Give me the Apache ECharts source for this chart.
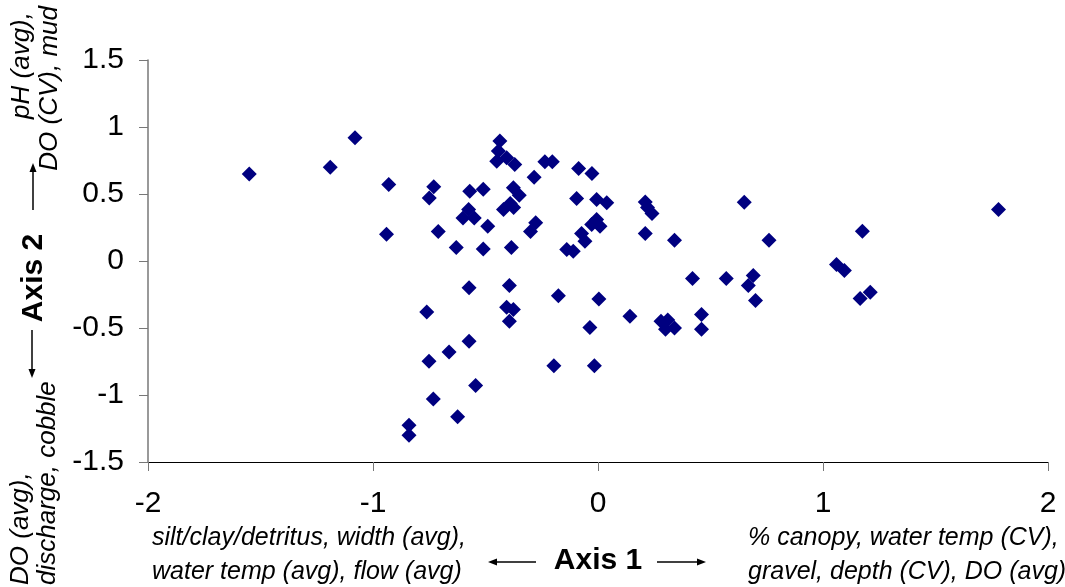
<!DOCTYPE html>
<html>
<head>
<meta charset="utf-8">
<script src="https://cdn.jsdelivr.net/npm/echarts@6/dist/echarts.min.js"></script>
<style>
html,body{margin:0;padding:0;background:#fff;}
#chart{width:1065px;height:587px;}
</style>
</head>
<body>
<div id="chart"></div>
<script>
// Ordination scores (Axis 1, Axis 2)
const axis1 = [-1.55,-1.19,-1.08,-0.93,-0.94,-0.73,-0.75,-0.71,-0.63,-0.57,-0.51,-0.575,-0.60,-0.55,-0.49,-0.51,-0.385,
  -0.436,-0.443,-0.45,-0.406,-0.37,-0.376,-0.35,-0.39,-0.42,-0.375,-0.284,-0.236,-0.203,-0.30,-0.277,
  -0.086,-0.027,-0.095,-0.006,0.039,-0.006,0.009,-0.028,-0.073,-0.058,-0.139,-0.11,
  0.21,0.22,0.24,0.21,0.34,0.65,0.76,1.175,1.78,1.06,1.095,1.21,1.165,
  0.42,0.57,0.69,0.668,0.70,0.142,-0.036,0.28,0.31,0.34,0.30,0.46,0.46,
  -0.573,-0.394,-0.176,0.004,-0.761,-0.406,-0.376,-0.394,-0.573,-0.662,-0.751,-0.196,-0.016,-0.544,-0.732,-0.624,-0.84,-0.84];
const axis2 = [0.65,0.70,0.92,0.57,0.20,0.555,0.47,0.22,0.10,0.52,0.535,0.385,0.32,0.32,0.26,0.09,0.10,
  0.895,0.82,0.745,0.77,0.72,0.546,0.49,0.43,0.385,0.40,0.625,0.74,0.74,0.22,0.285,
  0.69,0.653,0.466,0.459,0.434,0.31,0.26,0.272,0.206,0.148,0.086,0.073,
  0.44,0.40,0.355,0.205,0.155,0.438,0.155,0.222,0.384,-0.026,-0.07,-0.233,-0.28,
  -0.13,-0.13,-0.108,-0.183,-0.295,-0.412,-0.496,-0.45,-0.44,-0.50,-0.51,-0.40,-0.51,
  -0.20,-0.183,-0.26,-0.283,-0.38,-0.345,-0.362,-0.449,-0.598,-0.68,-0.748,-0.782,-0.782,-0.929,-1.03,-1.163,-1.225,-1.30];

const xTicks = [-2, -1, 0, 1, 2];
const yTicks = [-1.5, -1, -0.5, 0, 0.5, 1, 1.5];
const xTitle = 'Axis 1';
const yTitle = 'Axis 2';
const xLeftNote = ['silt/clay/detritus, width (avg),', 'water temp (avg), flow (avg)'];
const xRightNote = ['% canopy, water temp (CV),', 'gravel, depth (CV), DO (avg)'];
const yTopNote = ['pH (avg),', 'DO (CV), mud'];
const yBottomNote = ['DO (avg),', 'discharge, cobble'];

const points = axis1.map((x, i) => [x, axis2[i]]);

const chart = echarts.init(document.getElementById('chart'), null, {renderer: 'canvas'});
const italic = 'italic 25px "Liberation Sans", Arial, sans-serif';
const italicV = 'italic 26px "Liberation Sans", Arial, sans-serif';
const bold = 'bold 30px "Liberation Sans", Arial, sans-serif';

function arrow(x1, y1, x2, y2) {
  const ang = Math.atan2(y2 - y1, x2 - x1);
  const L = 9, W = 3.5;
  const bx = x2 - L * Math.cos(ang), by = y2 - L * Math.sin(ang);
  const px = -Math.sin(ang) * W, py = Math.cos(ang) * W;
  return [
    {type: 'line', shape: {x1: x1, y1: y1, x2: bx, y2: by}, style: {stroke: '#000', lineWidth: 1.5}},
    {type: 'polygon', shape: {points: [[x2, y2], [bx + px, by + py], [bx - px, by - py]]}, style: {fill: '#000'}}
  ];
}

const graphics = [
  {type: 'text', x: 152, y: 538, style: {text: xLeftNote[0], font: italic, fill: '#000', align: 'left', verticalAlign: 'middle'}},
  {type: 'text', x: 152, y: 572, style: {text: xLeftNote[1], font: italic, fill: '#000', align: 'left', verticalAlign: 'middle'}},
  {type: 'text', x: 748, y: 538, style: {text: xRightNote[0], font: italic, fill: '#000', align: 'left', verticalAlign: 'middle'}},
  {type: 'text', x: 748, y: 572, style: {text: xRightNote[1], font: italic, fill: '#000', align: 'left', verticalAlign: 'middle'}},
  {type: 'text', x: 598, y: 561, style: {text: xTitle, font: bold, fill: '#000', align: 'center', verticalAlign: 'middle'}},
  {type: 'text', x: 34, y: 278, rotation: Math.PI / 2, style: {text: yTitle, font: bold, fill: '#000', align: 'center', verticalAlign: 'middle'}},
  {type: 'text', x: 22, y: 12, rotation: Math.PI / 2, style: {text: yTopNote[0], font: italicV, fill: '#000', align: 'right', verticalAlign: 'middle'}},
  {type: 'text', x: 50, y: 6, rotation: Math.PI / 2, style: {text: yTopNote[1], font: italicV, fill: '#000', align: 'right', verticalAlign: 'middle'}},
  {type: 'text', x: 21, y: 585, rotation: Math.PI / 2, style: {text: yBottomNote[0], font: italicV, fill: '#000', align: 'left', verticalAlign: 'middle'}},
  {type: 'text', x: 48, y: 585, rotation: Math.PI / 2, style: {text: yBottomNote[1], font: italicV, fill: '#000', align: 'left', verticalAlign: 'middle'}}
].concat(arrow(536, 562, 488, 562), arrow(657, 562, 706, 562), arrow(33, 210, 33, 163), arrow(32, 330, 32, 378));

chart.setOption({
  animation: false,
  backgroundColor: '#fff',
  grid: {left: 148, right: 17, top: 60, bottom: 125, containLabel: false},
  xAxis: {
    type: 'value', min: xTicks[0], max: xTicks[xTicks.length - 1], interval: 1,
    axisLine: {show: true, onZero: false, lineStyle: {color: '#000', width: 1}},
    axisTick: {show: true, length: 9, lineStyle: {color: '#777'}},
    axisLabel: {margin: 27, fontSize: 30, fontFamily: '"Liberation Sans", Arial, sans-serif', color: '#000'},
    splitLine: {show: false}
  },
  yAxis: {
    type: 'value', min: yTicks[0], max: yTicks[yTicks.length - 1], interval: 0.5,
    axisLine: {show: true, onZero: false, lineStyle: {color: '#777', width: 1.5}},
    axisTick: {show: true, length: 9, lineStyle: {color: '#777'}},
    axisLabel: {margin: 24, fontSize: 30, fontFamily: '"Liberation Sans", Arial, sans-serif', color: '#000'},
    splitLine: {show: false}
  },
  series: [{
    type: 'scatter',
    data: points,
    symbol: 'diamond',
    symbolSize: 15,
    itemStyle: {color: '#000080', opacity: 1}
  }],
  graphic: graphics
});
</script>
</body>
</html>
